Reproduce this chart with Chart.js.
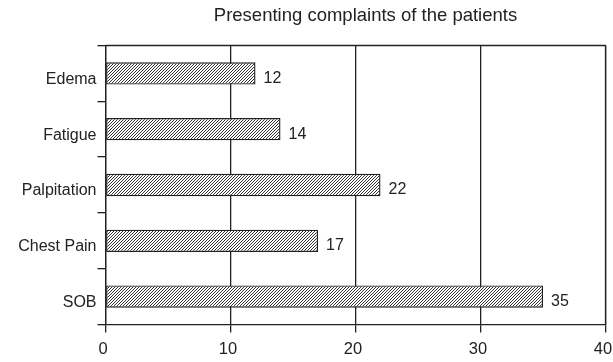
<!DOCTYPE html>
<html>
<head>
<meta charset="utf-8">
<script src="https://cdn.jsdelivr.net/npm/chart.js@4/dist/chart.umd.min.js"></script>
<style>
  html, body { margin: 0; padding: 0; background: #fff; }
  #wrap { width: 613px; height: 362px; }
</style>
</head>
<body>
<div id="wrap"><canvas id="myChart" width="613" height="362"></canvas></div>
<script>
const categories = ['Edema', 'Fatigue', 'Palpitation', 'Chest Pain', 'SOB'];
const counts = [12, 14, 22, 17, 35];
const xTicks = [0, 10, 20, 30, 40];
const chartTitle = 'Presenting complaints of the patients';

const FONT = '"Liberation Sans", Arial, sans-serif';

function makeHatch() {
    const c = document.createElement('canvas');
    c.width = 3; c.height = 3;
    const g = c.getContext('2d');
    g.fillStyle = '#fff';
    g.fillRect(0, 0, 3, 3);
    g.fillStyle = '#333';
    g.fillRect(0, 2, 1, 1);
    g.fillRect(1, 1, 1, 1);
    g.fillRect(2, 0, 1, 1);
    return g.createPattern(c, 'repeat');
}

const valueLabels = {
    id: 'valueLabels',
    afterDatasetsDraw(chart) {
        const ctx = chart.ctx;
        const meta = chart.getDatasetMeta(0);
        ctx.save();
        ctx.font = '16px ' + FONT;
        ctx.fillStyle = '#222';
        ctx.textBaseline = 'middle';
        meta.data.forEach((bar, i) => {
            ctx.fillText(String(counts[i]), bar.x + 8, bar.y + 5);
        });
        ctx.restore();
    }
};

const plotTitle = {
    id: 'plotTitle',
    afterDraw(chart) {
        const ctx = chart.ctx;
        const a = chart.chartArea;
        ctx.save();
        ctx.font = '18.5px ' + FONT;
        ctx.fillStyle = '#222';
        ctx.textAlign = 'center';
        ctx.textBaseline = 'middle';
        ctx.fillText(chartTitle, (a.left + a.right) / 2 + 10, 16);
        // top and right border of the plot
        ctx.strokeStyle = '#222';
        ctx.lineWidth = 1.3;
        ctx.beginPath();
        ctx.moveTo(a.left, a.top);
        ctx.lineTo(a.right, a.top);
        ctx.lineTo(a.right, a.bottom);
        ctx.stroke();
        ctx.restore();
    }
};

const ctx = document.getElementById('myChart').getContext('2d');
new Chart(ctx, {
    type: 'bar',
    data: {
        labels: categories,
        datasets: [{
            data: counts,
            backgroundColor: makeHatch(),
            borderColor: '#222',
            borderWidth: 1.4,
            borderSkipped: false,
            barPercentage: 0.4,
            categoryPercentage: 1
        }]
    },
    options: {
        indexAxis: 'y',
        responsive: false,
        animation: false,
        layout: { padding: { top: 45.5, right: 7.5, left: 0, bottom: 0 } },
        plugins: {
            legend: { display: false },
            title: { display: false },
            tooltip: { enabled: false }
        },
        scales: {
            x: {
                min: 0,
                max: 40,
                afterBuildTicks: (s) => { s.ticks = xTicks.map(v => ({ value: v })); },
                afterFit: (s) => { s.height = 37.5; s.paddingLeft = 0; s.paddingRight = 0; },
                grid: {
                    color: '#222',
                    lineWidth: 1.3,
                    tickLength: 8,
                    drawTicks: true
                },
                border: { color: '#222', width: 1.3 },
                ticks: {
                    color: '#222',
                    font: { family: FONT, size: 16.5 },
                    padding: 7,
                    labelOffset: -2.5,
                    maxRotation: 0
                }
            },
            y: {
                afterFit: (s) => { s.width = 105.5; s.paddingTop = 0; s.paddingBottom = 0; },
                grid: {
                    offset: true,
                    drawOnChartArea: false,
                    color: '#222',
                    lineWidth: 1.3,
                    tickLength: 8
                },
                border: { color: '#222', width: 1.3 },
                ticks: {
                    color: '#222',
                    font: { family: FONT, size: 16 },
                    padding: 1,
                    labelOffset: 6
                }
            }
        }
    },
    plugins: [valueLabels, plotTitle]
});
</script>
</body>
</html>
